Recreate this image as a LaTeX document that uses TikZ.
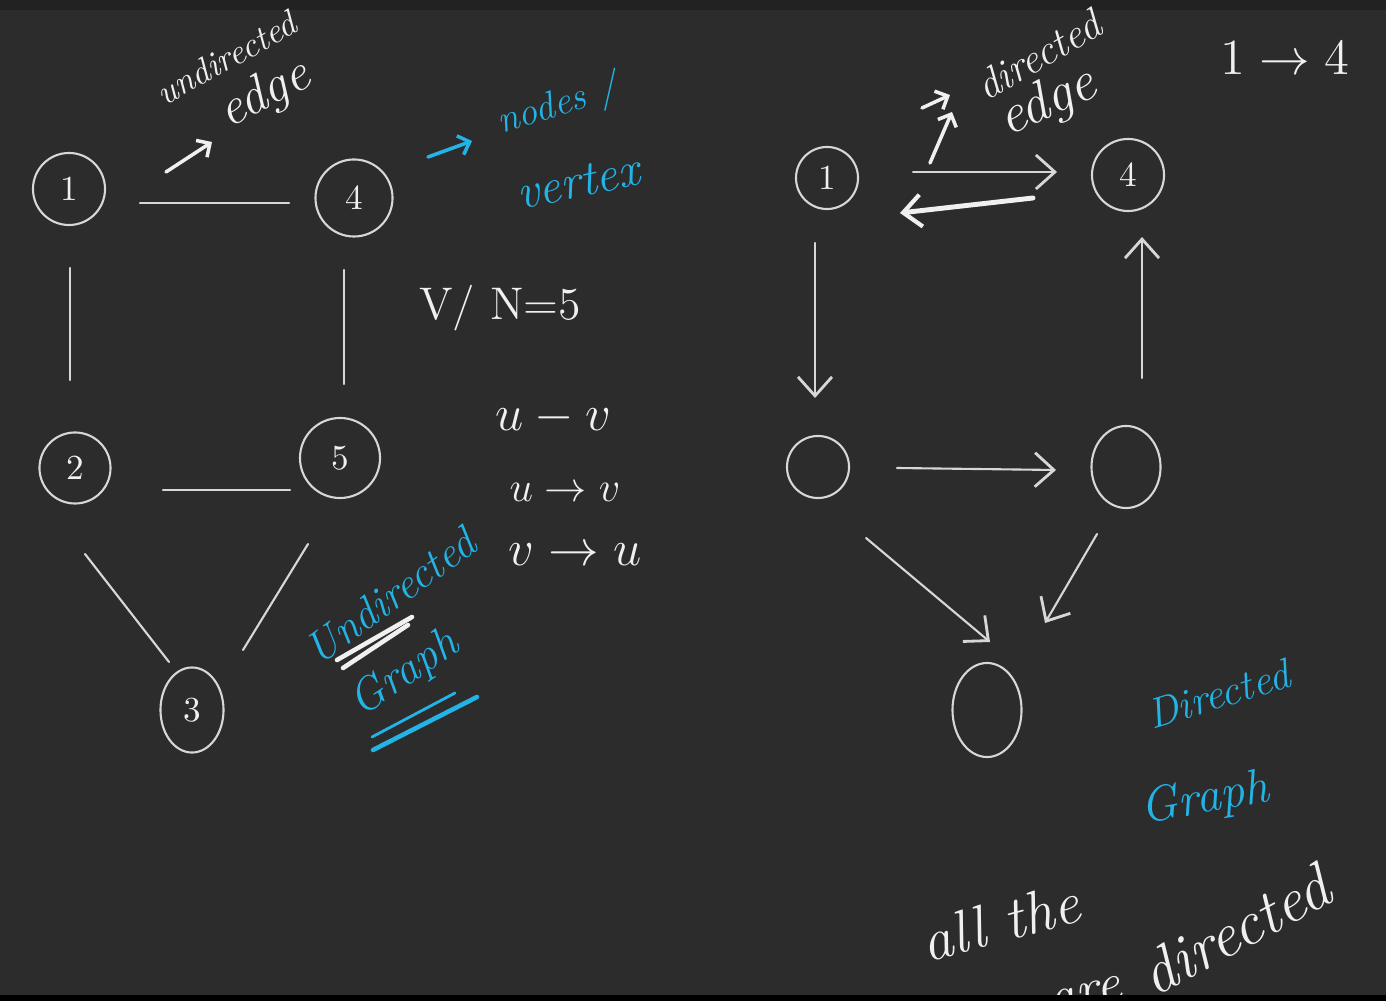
\documentclass[tikz,border=0pt]{standalone}
\usepackage{amsmath}
\usepackage{tikz}
\usetikzlibrary{shapes.geometric, % for ellipse
                arrows.meta, % for barb tips
                calc}

\definecolor{board}{RGB}{44,44,44}
\definecolor{topbar}{RGB}{34,34,34}
\definecolor{chalk}{RGB}{240,240,240}
\definecolor{edgegray}{RGB}{215,215,215}
\definecolor{pen}{RGB}{34,180,230}

\begin{document}
\begin{tikzpicture}[x=0.01cm, y=-0.01cm,
                    vtx/.style={draw=edgegray, line width=0.6pt, circle, inner sep=0pt,
                                text=chalk, font=\fontsize{10}{10}\selectfont},
                    ovl/.style={draw=edgegray, line width=0.6pt, ellipse, inner sep=0pt},
                    edge/.style={draw=edgegray, line width=0.6pt, line cap=round},
                    arr/.style={edge, -{Straight Barb[length=0.19cm, width=0.34cm, line width=0.8pt]}},
                    bigarr/.style={draw=chalk, line width=1.4pt, line cap=round,
                                   -{Straight Barb[length=0.18cm, width=0.32cm, line width=1.2pt]}},
                    hint/.style={draw=#1, line width=1pt, line cap=round,
                                 -{Straight Barb[length=0.1cm, width=0.2cm, line width=1pt]}},
                    hand/.style={text=chalk, inner sep=0pt, font=\fontsize{#1}{#1}\selectfont\itshape},
                    bluehand/.style={text=pen, inner sep=0pt, font=\fontsize{#1}{#1}\selectfont\itshape},
                    stroke/.style={draw=#1, line width=1.3pt, line cap=round}
                    ]
    % board
    \useasboundingbox (0,0) rectangle (1386,1001);
    \fill[board] (0,0) rectangle (1386,1001);
    \fill[topbar] (0,0) rectangle (1386,10);

    %undirected graph nodes
    \node[vtx, minimum size=0.72cm] at (69,189)  (U1) {1};
    \node[vtx, minimum size=0.77cm] at (354,198) (U4) {4};
    \node[vtx, minimum size=0.71cm] at (75,468)  (U2) {2};
    \node[vtx, minimum size=0.80cm] at (340,458) (U5) {5};
    \node[ovl, minimum width=0.63cm, minimum height=0.85cm, text=chalk,
          font=\fontsize{10}{10}\selectfont] at (192,710) (U3) {3};

    \draw[edge] ([shift={(71,14)}]U1.center)  -- ([shift={(-65,5)}]U4.center);
    \draw[edge] ([shift={(1,79)}]U1.center)   -- ([shift={(-5,-88)}]U2.center);
    \draw[edge] ([shift={(-10,72)}]U4.center) -- ([shift={(4,-74)}]U5.center);
    \draw[edge] ([shift={(88,22)}]U2.center)  -- ([shift={(-50,32)}]U5.center);
    \draw[edge] ([shift={(10,86)}]U2.center)  -- ([shift={(-23,-48)}]U3.center);
    \draw[edge] ([shift={(-32,86)}]U5.center) -- ([shift={(51,-60)}]U3.center);

    %directed graph nodes
    \node[vtx, minimum size=0.62cm] at (827,178)  (D1) {1};
    \node[vtx, minimum size=0.72cm] at (1128,175) (D4) {4};
    \node[vtx, minimum size=0.62cm] at (818,467)  (D2) {};
    \node[ovl, minimum width=0.69cm, minimum height=0.82cm] at (1126,467) (D5) {};
    \node[ovl, minimum width=0.69cm, minimum height=0.94cm] at (987,710)  (D3) {};

    \draw[arr] ([shift={(86,-6)}]D1.center)  -- ([shift={(-71,-3)}]D4.center);
    \draw[bigarr] ([shift={(-95,23)}]D4.center) -- ([shift={(73,35)}]D1.center);
    \draw[arr] ([shift={(-12,65)}]D1.center)  -- ([shift={(-3,-69)}]D2.center);
    \draw[arr] ([shift={(16,-89)}]D5.center)  -- ([shift={(14,62)}]D4.center);
    \draw[arr] ([shift={(79,1)}]D2.center)    -- ([shift={(-70,3)}]D5.center);
    \draw[arr] ([shift={(48,71)}]D2.center)   -- ([shift={(3,-68)}]D3.center);
    \draw[arr] ([shift={(-29,67)}]D5.center)  -- ([shift={(58,-87)}]D3.center);

    %pointer ends
    \coordinate (ue0) at (166,172); \coordinate (ue1) at (212,142);
    \coordinate (nv0) at (428,157); \coordinate (nv1) at (472,141);
    \coordinate (de0) at (930,163); \coordinate (de1) at (952,112);
    \coordinate (de2) at (922,108); \coordinate (de3) at (950,95);
    \draw[hint=chalk] (ue0) -- (ue1);
    \draw[hint=pen]   (nv0) -- (nv1);
    \draw[hint=chalk] (de0) -- (de1);
    \draw[hint=chalk] (de2) -- (de3);

    %notes, left
    \node[hand=10, rotate=29] at (226,58)  (undir) {undirected};
    \node[hand=15, rotate=27] at (265,95)  (uedge) {edge};
    \node[bluehand=11, rotate=17] at (558,106) (nodes) {nodes /};
    \node[bluehand=14, rotate=12] at (578,182) (vert) {vertex};
    \node[text=chalk, font=\fontsize{13}{13}\selectfont] at (500,308) (count) {V/ N=5};
    \node[text=chalk, font=\fontsize{15}{15}\selectfont] at (553,418) (uv)  {$u - v$};
    \node[text=chalk, font=\fontsize{13}{13}\selectfont] at (565,492) (uvd) {$u \to v$};
    \node[text=chalk, font=\fontsize{15}{15}\selectfont] at (575,555) (vud) {$v \to u$};
    \node[bluehand=12.5, rotate=36] at (390,596) (ugl1) {Undirected};
    \node[bluehand=13, rotate=34] at (405,674) (ugl2) {Graph};
    \draw[stroke=chalk] (337,660) -- (412,617);
    \draw[stroke=chalk] (343,668) -- (408,625);
    \draw[stroke=pen] (373,750) -- (477,697);
    \draw[stroke=pen, line width=0.8pt] (372,737) -- (455,693);

    %notes, right
    \node[hand=12, rotate=30] at (1038,55)  (dir)   {directed};
    \node[hand=16, rotate=24] at (1048,103) (dedge) {edge};
    \node[text=chalk, font=\fontsize{14}{14}\selectfont] at (1285,58) (otf) {$1 \to 4$};
    \node[bluehand=12, rotate=17] at (1218,694) (dgl1) {Directed};
    \node[bluehand=14, rotate=10] at (1205,800) (dgl2) {Graph};
    \node[hand=17, rotate=15] at (1000,922) (allt) {all the};
    \node[hand=16, rotate=14] at (1085,997) (are)  {are};
    \node[hand=18, rotate=28] at (1235,930) (dird) {directed};

    \fill[black] (0,995) rectangle (1386,1001);
\end{tikzpicture}
\end{document}
